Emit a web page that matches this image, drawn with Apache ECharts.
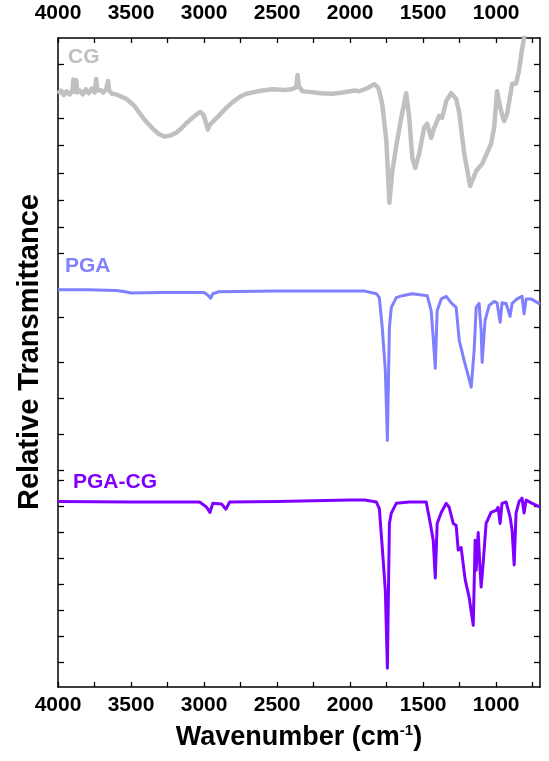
<!DOCTYPE html>
<html>
<head>
<meta charset="utf-8">
<script src="https://cdn.jsdelivr.net/npm/echarts@6/dist/echarts.min.js"></script>
<style>
  html, body { margin: 0; padding: 0; background: #fff; }
  #chart { width: 549px; height: 761px; }
</style>
</head>
<body>
<div id="chart"></div>
<script>
// FTIR spectra, stacked with offsets on a relative transmittance scale (0-100, a.u.)
// Each point: [wavenumber (cm-1), relative transmittance]
const seriesNames = ['CG', 'PGA', 'PGA-CG'];

const cgSpectrum = [
  [4000, 91.4], [3980, 91.9], [3960, 91.2], [3940, 91.8], [3920, 91.3], [3900, 92.0],
  [3895, 93.6], [3890, 91.7], [3875, 93.5], [3868, 91.6], [3850, 91.9], [3830, 91.3],
  [3810, 92.1], [3790, 91.5], [3770, 92.2], [3750, 91.6], [3738, 93.7], [3732, 91.9],
  [3710, 92.0], [3690, 91.6], [3670, 92.1], [3657, 93.4], [3650, 91.9], [3630, 91.4],
  [3600, 91.3], [3570, 91.0], [3530, 90.6], [3480, 89.6], [3440, 88.4], [3400, 87.2],
  [3350, 86.0], [3310, 85.2], [3270, 84.8], [3230, 85.0], [3190, 85.4], [3150, 86.2],
  [3120, 86.9], [3080, 87.7], [3040, 88.4], [3025, 88.6], [3005, 88.2], [2990, 87.2],
  [2975, 85.9], [2962, 86.6], [2950, 86.9], [2900, 88.0], [2850, 89.2], [2800, 90.2],
  [2750, 91.0], [2710, 91.4], [2650, 91.7], [2600, 91.9], [2530, 92.1], [2450, 92.0],
  [2400, 92.1], [2370, 92.4], [2360, 94.3], [2350, 92.5], [2325, 91.8], [2280, 91.7],
  [2200, 91.5], [2120, 91.4], [2050, 91.6], [1970, 91.9], [1936, 91.8], [1880, 92.3],
  [1834, 92.9], [1810, 92.4], [1800, 91.8], [1780, 89.8], [1752, 84.2], [1731, 74.6],
  [1711, 79.5], [1684, 83.4], [1650, 87.7], [1616, 91.5], [1595, 87.7], [1574, 81.5],
  [1554, 80.0], [1527, 82.2], [1493, 86.2], [1472, 86.8], [1445, 84.6], [1424, 86.2],
  [1390, 88.0], [1370, 87.7], [1342, 90.3], [1308, 91.5], [1274, 90.6], [1253, 88.5],
  [1219, 82.2], [1178, 77.2], [1137, 79.5], [1096, 80.6], [1035, 83.7], [1014, 86.2],
  [994, 91.8], [967, 88.8], [946, 87.2], [925, 88.3], [891, 92.9], [864, 93.0],
  [843, 95.0], [825, 98.0], [809, 100.0], [790, 102.6], [760, 104.0], [700, 105.0]
];

const pgaSpectrum = [
  [4000, 61.2], [3800, 61.2], [3600, 61.1], [3540, 60.9], [3500, 60.7], [3300, 60.8],
  [3000, 60.8], [2975, 60.4], [2955, 59.9], [2940, 60.6], [2900, 60.9], [2500, 61.0],
  [2000, 61.0], [1900, 61.0], [1820, 60.6], [1800, 60.0], [1780, 55.4], [1759, 48.8],
  [1745, 38.0], [1731, 55.4], [1718, 58.5], [1684, 60.0], [1643, 60.3], [1574, 60.6],
  [1472, 60.3], [1445, 58.0], [1431, 53.8], [1417, 49.1], [1404, 58.0], [1376, 59.8],
  [1342, 60.2], [1308, 59.2], [1274, 58.5], [1253, 53.4], [1219, 50.3], [1171, 46.2],
  [1151, 51.8], [1137, 58.5], [1117, 59.1], [1103, 54.9], [1096, 50.0], [1076, 56.5],
  [1048, 58.8], [1014, 59.4], [994, 59.2], [973, 56.2], [960, 59.2], [932, 59.1],
  [905, 57.1], [891, 59.1], [857, 59.8], [823, 60.2], [809, 57.5], [795, 59.8],
  [761, 59.8], [700, 59.0]
];

const pgaCgSpectrum = [
  [4000, 28.6], [3500, 28.5], [3030, 28.5], [2982, 27.7], [2960, 26.9], [2940, 28.3],
  [2880, 28.2], [2850, 27.4], [2825, 28.5], [2500, 28.6], [2000, 28.8], [1900, 28.8],
  [1820, 28.5], [1800, 27.5], [1780, 21.5], [1759, 14.9], [1745, 2.9], [1731, 25.2],
  [1718, 26.8], [1684, 28.3], [1595, 28.5], [1479, 28.5], [1451, 25.2], [1431, 22.6],
  [1417, 16.8], [1404, 25.2], [1376, 26.9], [1342, 28.3], [1322, 27.7], [1294, 25.2],
  [1274, 24.9], [1260, 21.1], [1240, 21.5], [1212, 16.5], [1185, 13.8], [1157, 9.5],
  [1144, 22.6], [1137, 18.0], [1123, 23.8], [1110, 18.0], [1103, 15.4], [1089, 19.1],
  [1069, 25.2], [1035, 26.9], [1000, 27.2], [987, 27.7], [973, 25.2], [960, 28.3],
  [932, 28.5], [905, 26.2], [891, 24.2], [877, 18.8], [864, 26.8], [843, 28.6],
  [823, 29.1], [809, 26.8], [795, 28.8], [754, 28.3], [706, 27.8], [700, 27.8]
];

// Wavenumber ticks (every 250) and labels (every 500)
const xTickValues = [4000, 3750, 3500, 3250, 3000, 2750, 2500, 2250, 2000, 1750, 1500, 1250, 1000, 750];
const xLabelValues = [4000, 3500, 3000, 2500, 2000, 1500, 1000];

// Unlabelled transmittance ticks of the three stacked panels
const yTickLeft = [96.0, 91.8, 87.6, 83.4, 79.2, 75.0, 70.8, 66.8,
                   56.9, 50.0, 44.5, 38.9, 33.4,
                   31.8, 27.8, 23.8, 19.8, 15.8, 11.8, 7.8, 3.8];
const yTickRight = [96.0, 91.8, 87.6, 83.4, 79.2, 75.0, 70.8, 66.8,
                    61.1, 55.5, 50.0, 44.5, 38.9, 33.4,
                    31.8, 27.8, 23.8, 19.8, 15.8, 11.8, 7.8, 3.8];

const colors = ['#c0c0c0', '#8080ff', '#8000ff'];
const FONT = 'Liberation Sans, Arial, sans-serif';

const chart = echarts.init(document.getElementById('chart'), null, { renderer: 'canvas' });

function xAxisDef(position, margin) {
  return {
    type: 'value', position: position, min: 700, max: 4000, inverse: true,
    axisLine: { show: true, onZero: false, lineStyle: { color: '#000', width: 1.5 } },
    axisTick: { show: true, inside: true, length: 5, customValues: xTickValues,
                lineStyle: { color: '#000', width: 1.3 } },
    axisLabel: { show: true, customValues: xLabelValues, margin: margin, color: '#000',
                 fontSize: 21, fontWeight: 'bold', fontFamily: FONT,
                 formatter: v => String(v) },
    splitLine: { show: false }
  };
}

function yAxisDef(position, ticks) {
  return {
    type: 'value', position: position, min: 0, max: 100,
    axisLine: { show: true, lineStyle: { color: '#000', width: 1.5 } },
    axisTick: { show: true, inside: true, length: 6, customValues: ticks,
                lineStyle: { color: '#000', width: 1.3 } },
    axisLabel: { show: false },
    splitLine: { show: false }
  };
}

const bottomX = xAxisDef('bottom', 8);
bottomX.name = '{t|Wavenumber (cm}{s|-1}{t|)}';
bottomX.nameLocation = 'middle';
bottomX.nameGap = 36;
bottomX.nameTextStyle = {
  rich: {
    t: { fontSize: 27, fontWeight: 'bold', fontFamily: FONT, color: '#000', lineHeight: 30 },
    s: { fontSize: 15, fontWeight: 'bold', fontFamily: FONT, color: '#000', verticalAlign: 'top', lineHeight: 14 }
  }
};
const topX = xAxisDef('top', 14);

const spectra = [cgSpectrum, pgaSpectrum, pgaCgSpectrum];
const widths = [4.5, 3, 3];

chart.setOption({
  animation: false,
  backgroundColor: '#fff',
  grid: { left: 58, right: 9, top: 38, bottom: 74, containLabel: false },
  xAxis: [bottomX, topX],
  yAxis: [yAxisDef('left', yTickLeft), yAxisDef('right', yTickRight)],
  series: spectra.map((d, i) => ({
    name: seriesNames[i], type: 'line', data: d, xAxisIndex: 0, yAxisIndex: 0,
    showSymbol: false, symbol: 'none', clip: true,
    lineStyle: { color: colors[i], width: widths[i], join: 'round' }
  })),
  graphic: [
    { type: 'text', x: 30, y: 352, rotation: Math.PI / 2,
      style: { text: 'Relative Transmittance', fill: '#000', font: 'bold 29px ' + FONT,
               align: 'center', verticalAlign: 'middle' } },
    { type: 'text', left: 68, top: 47, style: { text: seriesNames[0], fill: colors[0], font: 'bold 21px ' + FONT } },
    { type: 'text', left: 65, top: 256, style: { text: seriesNames[1], fill: colors[1], font: 'bold 21px ' + FONT } },
    { type: 'text', left: 73, top: 472, style: { text: seriesNames[2], fill: colors[2], font: 'bold 21px ' + FONT } }
  ]
});
</script>
</body>
</html>
